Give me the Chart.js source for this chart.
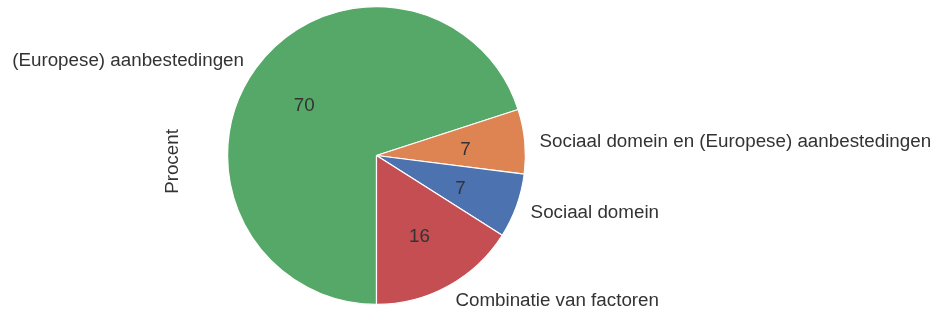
<!DOCTYPE html>
<html>
<head>
<meta charset="utf-8">
<script src="https://cdn.jsdelivr.net/npm/chart.js@4"></script>
<style>
  html, body { margin: 0; padding: 0; background: #fff; }
  #wrap { width: 933px; height: 311px; }
</style>
</head>
<body>
<div id="wrap"><canvas id="pieChart" width="933" height="311"></canvas></div>
<script>
// Data (clockwise from the bottom of the pie)
const categories = [
  "(Europese) aanbestedingen",
  "Sociaal domein en (Europese) aanbestedingen",
  "Sociaal domein",
  "Combinatie van factoren"
];
const percentages = [70, 7, 7, 16];
const sliceColors = ["#55A868", "#DD8452", "#4C72B0", "#C44E52"];
const axisLabel = "Procent";

const FONT = "18.8px 'Liberation Sans', Arial, sans-serif";
const TEXT = "#333333";

// draws labels like matplotlib: names at 1.1 r, values at 0.6 r
const pieLabels = {
  id: "pieLabels",
  afterDatasetsDraw(chart) {
    const ctx = chart.ctx;
    const meta = chart.getDatasetMeta(0);
    ctx.save();
    ctx.font = FONT;
    ctx.fillStyle = TEXT;
    ctx.textBaseline = "middle";
    meta.data.forEach((arc, i) => {
      const mid = (arc.startAngle + arc.endAngle) / 2;
      const r = arc.outerRadius;
      const cx = Math.cos(mid), cy = Math.sin(mid);
      ctx.textAlign = cx >= 0 ? "left" : "right";
      ctx.fillText(categories[i], arc.x + cx * r * 1.1, arc.y + cy * r * 1.1 + 2);
      ctx.textAlign = "center";
      ctx.fillText(String(percentages[i]), arc.x + cx * r * 0.6, arc.y + cy * r * 0.6 + 3);
    });
    // y-axis style label left of the pie
    const a = meta.data[0];
    ctx.translate(a.x - a.outerRadius - 55, a.y + 6);
    ctx.rotate(-Math.PI / 2);
    ctx.textAlign = "center";
    ctx.fillText(axisLabel, 0, 0);
    ctx.restore();
  }
};

new Chart(document.getElementById("pieChart").getContext("2d"), {
  type: "pie",
  data: {
    labels: categories,
    datasets: [{
      data: percentages,
      backgroundColor: sliceColors,
      borderColor: "#ffffff",
      borderWidth: 1.2
    }]
  },
  options: {
    responsive: false,
    animation: false,
    rotation: 180,
    layout: { padding: { left: 227, right: 407, top: 6, bottom: 6 } },
    plugins: {
      legend: { display: false },
      tooltip: { enabled: false }
    }
  },
  plugins: [pieLabels]
});
</script>
</body>
</html>
